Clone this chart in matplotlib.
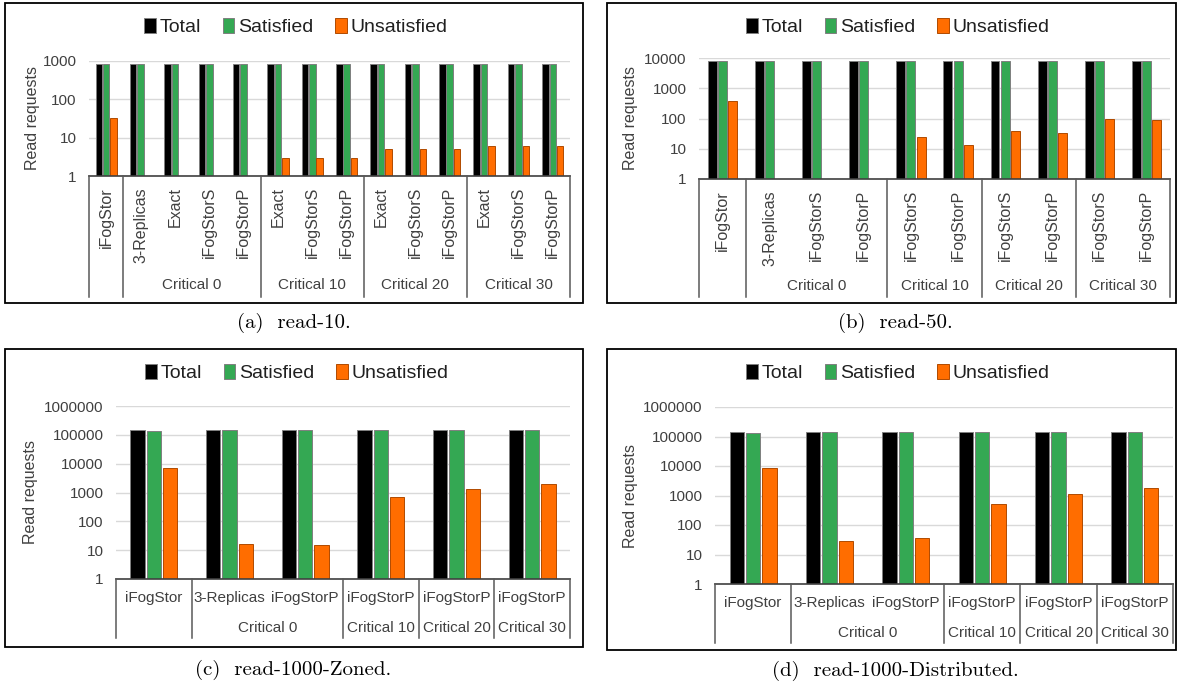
import numpy as np
import matplotlib
matplotlib.use("Agg")
import matplotlib.pyplot as plt
from matplotlib.lines import Line2D
from matplotlib.patches import Rectangle
from matplotlib.transforms import blended_transform_factory

plt.rcParams['font.family'] = ['Liberation Sans', 'DejaVu Sans']

W, H = 1178, 687

# ---- data ----
cats_a = ['iFogStor', '3-Replicas', 'Exact', 'iFogStorS', 'iFogStorP',
          'Exact', 'iFogStorS', 'iFogStorP', 'Exact', 'iFogStorS', 'iFogStorP',
          'Exact', 'iFogStorS', 'iFogStorP']
groups_a = [('', 1), ('Critical 0', 4), ('Critical 10', 3), ('Critical 20', 3), ('Critical 30', 3)]
total_a = [850, 850, 850, 850, 850, 850, 850, 850, 850, 850, 850, 850, 850, 850]
sat_a = [817, 850, 850, 850, 850, 847, 847, 847, 845, 845, 845, 844, 844, 844]
unsat_a = [33, 0, 0, 0, 0, 3, 3, 3, 5, 5, 5, 6, 6, 6]

cats_b = ['iFogStor', '3-Replicas', 'iFogStorS', 'iFogStorP', 'iFogStorS', 'iFogStorP',
          'iFogStorS', 'iFogStorP', 'iFogStorS', 'iFogStorP']
groups_b = [('', 1), ('Critical 0', 3), ('Critical 10', 2), ('Critical 20', 2), ('Critical 30', 2)]
total_b = [8200, 8200, 8200, 8200, 8200, 8200, 8200, 8200, 8200, 8200]
sat_b = [7810, 8200, 8200, 8200, 8176, 8187, 8162, 8167, 8100, 8110]
unsat_b = [390, 0, 0, 0, 24, 13, 38, 33, 100, 90]

cats_c = ['iFogStor', '3-Replicas', 'iFogStorP', 'iFogStorP', 'iFogStorP', 'iFogStorP']
groups_c = [('', 1), ('Critical 0', 2), ('Critical 10', 1), ('Critical 20', 1), ('Critical 30', 1)]
total_c = [145000, 145000, 145000, 145000, 145000, 145000]
sat_c = [138000, 145000, 145000, 144300, 143650, 143000]
unsat_c = [7000, 17, 15, 700, 1350, 2000]

cats_d = cats_c
groups_d = groups_c
total_d = [145000, 145000, 145000, 145000, 145000, 145000]
sat_d = [136500, 145000, 145000, 144470, 137000, 137000]
unsat_d = [8500, 28, 36, 530, 1100, 1800]

series_names = ['Total', 'Satisfied', 'Unsatisfied']
colors = ['#000000', '#34A853', '#FF6D00']
edges = ['#7F7F7F', '#7F7F7F', '#B04A00']

fig = plt.figure(figsize=(W / 100, H / 100), dpi=100)


def fx(x):
    return x / W


def fy(y):
    return 1 - y / H


def draw_panel(box, area, cats, groups, series, ymax, rotated, caption,
               legend_xy, rows_y, sep_bottom, cap_xy, ylab_x):
    # frame round the panel
    bx0, by0, bx1, by1 = box
    fig.add_artist(Rectangle((fx(bx0), fy(by1)), (bx1 - bx0) / W, (by1 - by0) / H,
                             transform=fig.transFigure, fill=False,
                             edgecolor='black', lw=1.3))
    x0, y0, x1, y1 = area
    ax = fig.add_axes([fx(x0), fy(y1), (x1 - x0) / W, (y1 - y0) / H])
    n = len(cats)
    x = np.arange(n)
    w = 0.19
    step = 0.215
    handles = []
    for i, vals in enumerate(series):
        v = np.array(vals, dtype=float)
        v = np.where(v > 0, v, np.nan)
        b = ax.bar(x + (i - 1) * step, v, w, color=colors[i],
                   edgecolor=edges[i], linewidth=0.7, label=series_names[i])
        handles.append(b)
    ax.set_yscale('log')
    ax.set_ylim(1, ymax)
    ax.set_xlim(-0.5, n - 0.5)
    ticks = [10 ** k for k in range(int(round(np.log10(ymax))) + 1)]
    ax.set_yticks(ticks)
    ax.set_yticklabels([str(t) for t in ticks])
    ax.yaxis.set_minor_locator(matplotlib.ticker.NullLocator())
    ax.set_xticks([])
    ax.tick_params(axis='y', length=0, pad=9, labelsize=11, labelcolor='#404040')
    for s in ['left', 'right', 'top']:
        ax.spines[s].set_visible(False)
    ax.spines['bottom'].set_color('#404040')
    ax.spines['bottom'].set_linewidth(1.2)
    ax.yaxis.grid(True, color='#D9D9D9', lw=1)
    ax.set_axisbelow(True)

    trans = blended_transform_factory(ax.transData, fig.transFigure)
    # category labels
    for i, c in enumerate(cats):
        if rotated:
            ax.text(i, fy(rows_y[0]), c, transform=trans, rotation=90,
                    ha='center', va='top', fontsize=11.5, color='#404040')
        else:
            ax.text(i, fy(rows_y[0]), c, transform=trans, ha='center',
                    va='center', fontsize=11, color='#404040')
    # group labels and separators
    start = -0.5
    bounds = [start]
    for name, size in groups:
        end = start + size
        if name:
            ax.text((start + end) / 2, fy(rows_y[1]), name, transform=trans,
                    ha='center', va='center', fontsize=11, color='#404040')
        bounds.append(end)
        start = end
    for bnd in bounds:
        fig.add_artist(Line2D([bnd, bnd], [fy(y1), fy(sep_bottom)], transform=trans,
                              color='#595959', lw=1.1))

    ax.legend(handles=handles, loc='center',
              bbox_to_anchor=(fx(legend_xy[0]), fy(legend_xy[1])),
              bbox_transform=fig.transFigure, ncol=3, frameon=False,
              fontsize=14, handlelength=0.6, handleheight=0.8,
              handletextpad=0.2, columnspacing=1.1, labelcolor='#202020')

    fig.text(fx(ylab_x), fy((y0 + y1) / 2), 'Read requests', rotation=90,
             ha='center', va='center', fontsize=11.5, color='#404040')
    fig.text(fx(cap_xy[0]), fy(cap_xy[1]), caption, ha='center', va='center',
             fontfamily='cmr10', fontsize=15)
    return ax


draw_panel((5, 3, 583, 303), (89, 61, 570, 176), cats_a, groups_a,
           [total_a, sat_a, unsat_a], 1000, True, '(a)  read-10.',
           (296, 27), (187, 285), 297, (294, 323), 32)
draw_panel((607, 3, 1176, 303), (699, 58, 1170, 179), cats_b, groups_b,
           [total_b, sat_b, unsat_b], 10000, True, '(b)  read-50.',
           (898, 27), (190, 286), 297, (895, 323), 630)
draw_panel((5, 349, 583, 647), (116, 406, 570, 579), cats_c, groups_c,
           [total_c, sat_c, unsat_c], 1000000, False, '(c)  read-1000-Zoned.',
           (297, 373), (598, 628), 638, (293, 670), 30)
draw_panel((607, 349, 1176, 650), (715, 407, 1173, 584), cats_d, groups_d,
           [total_d, sat_d, unsat_d], 1000000, False, '(d)  read-1000-Distributed.',
           (898, 373), (603, 633), 643, (895, 671), 631)

fig.savefig('out.png', dpi=100)
